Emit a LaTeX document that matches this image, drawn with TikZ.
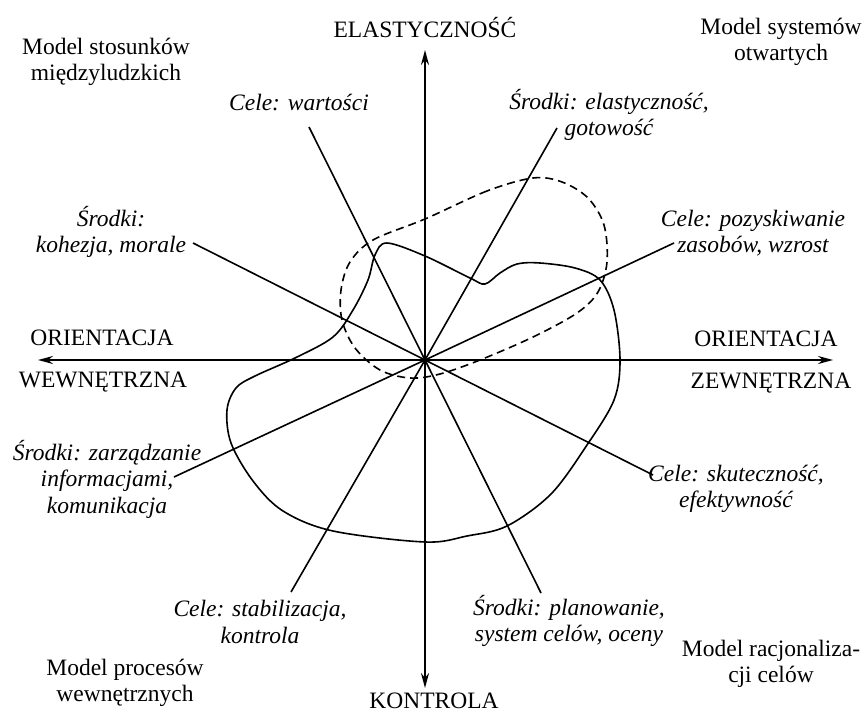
\documentclass[tikz,border=0pt]{standalone}
\usepackage{fontspec}
\setmainfont{Liberation Serif}
\usetikzlibrary{arrows.meta}
\begin{document}
\begin{tikzpicture}[x=1pt,y=-1pt,
  lab/.style={font=\fontsize{23.5}{26.5}\selectfont, align=center, inner sep=0pt},
  ilab/.style={font=\fontsize{23.5}{26.5}\selectfont\itshape, align=center, inner sep=0pt},
  axis/.style={line width=2pt, -{Stealth[length=15pt,width=8pt]}},
  ray/.style={line width=1.6pt},
  blob/.style={line width=1.6pt},
  dblob/.style={line width=1.6pt, dash pattern=on 8pt off 5pt}]
\useasboundingbox (0,0) rectangle (867,714);
\coordinate (C) at (425,360);
\coordinate (top) at (425,50);
\coordinate (bot) at (425,688);
\coordinate (lft) at (38,360);
\coordinate (rgt) at (833,360);
% axes
\draw[axis] (C) -- (top);
\draw[axis] (C) -- (bot);
\draw[axis] (C) -- (lft);
\draw[axis] (C) -- (rgt);
% axis labels
\node[lab] (ela) at (425,28) {ELASTYCZNOŚĆ};
\node[font=\fontsize{23.5}{26.5}\selectfont, inner sep=0pt, anchor=base] (kon) at (434,708) {KONTROLA};
\node[lab] (owl) at (102,338) {ORIENTACJA};
\node[lab] (wew) at (103,382) {WEWNĘTRZNA};
\node[lab] (owr) at (766,339) {ORIENTACJA};
\node[lab] (zew) at (771,383) {ZEWNĘTRZNA};
% model labels
\node[lab] (m1) at (106,62) {Model stosunków\\międzyludzkich};
\node[lab] (m2) at (781,42) {Model systemów\\otwartych};
\node[lab] (m3) at (125,683) {Model procesów\\wewnętrznych};
\node[lab] (m4) at (771,664) {Model racjonaliza-\\cji celów};
% italic labels
\node[ilab] (cw) at (299,103) {Cele: wartości};
\node[ilab] (sk) at (111,232) {Środki:\\kohezja, morale};
\node[ilab] (se) at (609,115) {Środki: elastyczność,\\gotowość};
\node[ilab] (cp) at (753,233) {Cele: pozyskiwanie\\zasobów, wzrost};
\node[ilab] (sz) at (107,479) {Środki: zarządzanie\\informacjami,\\komunikacja};
\node[ilab] (cs) at (260,622) {Cele: stabilizacja,\\kontrola};
\node[ilab] (csk) at (736,489) {Cele: skuteczność,\\efektywność};
\node[ilab] (sp) at (569,621) {Środki: planowanie,\\system celów, oceny};
% ray end points
\coordinate (e1) at (309,127);
\coordinate (e1b) at (541,593);
\coordinate (e2) at (193,243);
\coordinate (e2b) at (653,475);
\coordinate (e3) at (557,128);
\coordinate (e3b) at (291,592);
\coordinate (e4) at (674,243);
\coordinate (e4b) at (174,477);
\draw[ray] (e1) -- (C) -- (e1b);
\draw[ray] (e2) -- (C) -- (e2b);
\draw[ray] (e3) -- (C) -- (e3b);
\draw[ray] (e4) -- (C) -- (e4b);
% solid blob
\draw[blob] plot[smooth cycle, tension=0.55] coordinates {
  (387,243) (425,256) (470,278) (485,284) (500,273) (517,264) (540,263)
  (575,268) (600,280) (614,310) (620,360) (614,400) (587,445) (551,494)
  (507,526) (467,536) (425,542) (333,531) (283,511) (253,481) (231,443)
  (227,410) (236,388) (255,376) (295,358) (333,337) (353,310) (368,280)
  (375,255)};
% dashed blob
\draw[dblob] plot[smooth cycle, tension=0.55] coordinates {
  (533,178) (487,191) (425,219) (373,240) (350,262) (341,290) (342,320)
  (355,348) (380,370) (410,378) (440,374) (480,360) (533,337) (577,313)
  (598,292) (607,262) (604,225) (588,198) (562,182)};
\end{tikzpicture}
\end{document}
